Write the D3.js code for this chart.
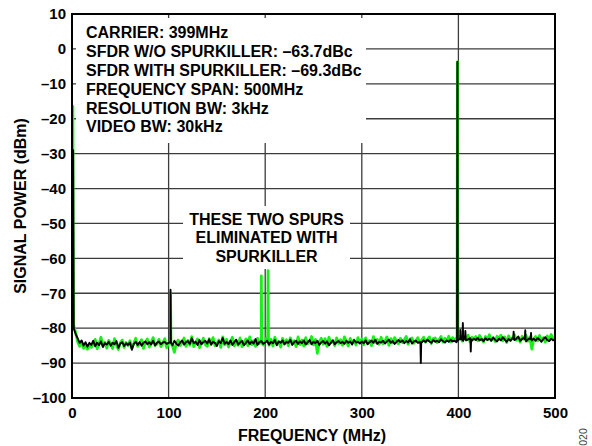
<!DOCTYPE html>
<html>
<head>
<meta charset="utf-8">
<script src="https://cdn.jsdelivr.net/npm/d3@7/dist/d3.min.js"></script>
<style>
  html, body { margin: 0; padding: 0; background: #fff; }
  svg { display: block; }
  text { font-family: "Liberation Sans", Arial, Helvetica, sans-serif; }
</style>
</head>
<body>
<svg id="chart" width="592" height="446"></svg>
<script>
// ---------------- DATA ----------------
const xTicks = [0, 100, 200, 300, 400, 500];
const yTicks = [10, 0, -10, -20, -30, -40, -50, -60, -70, -80, -90, -100];
const gridStepMHz = 2; // noise samples every 2 MHz, 0..500 MHz

const infoLines = [
  "CARRIER: 399MHz",
  "SFDR W/O SPURKILLER: \u201363.7dBc",
  "SFDR WITH SPURKILLER: \u201369.3dBc",
  "FREQUENCY SPAN: 500MHz",
  "RESOLUTION BW: 3kHz",
  "VIDEO BW: 30kHz"
];
const spurNote = ["THESE TWO SPURS", "ELIMINATED WITH", "SPURKILLER"];

// trace WITH SpurKiller (black), noise floor every 2 MHz
const blackNoise = [
  -80.0, -80.2, -81.8, -83.0, -84.2, -83.5, -85.0, -84.0, -85.3, -84.2,
  -84.8, -83.6, -85.2, -84.1, -84.9, -83.8, -85.4, -84.3, -84.7, -83.9,
  -85.0, -84.2, -84.6, -83.7, -85.6, -84.4, -84.0, -85.1, -84.3, -84.8,
  -84.1, -86.2, -84.5, -83.9, -84.8, -84.0, -85.0, -84.2, -83.8, -84.6,
  -84.0, -84.7, -83.6, -84.9, -84.2, -83.8, -84.6, -84.1, -83.9, -84.5,
  -84.2, -83.8, -84.9, -83.6, -84.4, -85.0, -84.1, -83.5, -84.7, -84.0,
  -83.7, -84.5, -82.9, -84.3, -83.9, -84.8, -83.4, -84.6, -84.0, -83.6,
  -84.4, -83.2, -84.7, -83.9, -84.2, -85.1, -83.7, -84.3, -82.8, -84.5,
  -83.9, -84.6, -83.5, -84.8, -84.0, -83.3, -84.7, -84.1, -83.6, -84.9,
  -84.2, -83.5, -84.6, -83.8, -84.4, -83.1, -84.8, -84.0, -83.7, -84.5,
  -84.1, -83.6, -84.7, -83.9, -84.3, -83.4, -84.9, -83.8, -84.2, -83.5,
  -84.6, -83.9, -84.2, -83.3, -84.8, -84.0, -83.6, -84.5, -83.8, -84.3,
  -83.5, -84.7, -84.0, -83.4, -84.6, -83.9, -84.3, -83.6, -84.8, -84.1,
  -83.7, -84.4, -83.8, -84.9, -84.2, -83.5, -84.6, -84.0, -83.7, -84.3,
  -83.9, -84.5, -83.6, -84.2, -83.8, -84.7, -83.4, -84.1, -83.9, -84.4,
  -83.8, -84.3, -83.5, -84.6, -84.0, -83.6, -84.2, -83.3, -84.5, -83.9,
  -84.1, -83.6, -84.4, -83.8, -83.3, -84.2, -83.7, -84.5, -83.9, -83.4,
  -84.0, -83.5, -84.3, -83.7, -84.1, -83.2, -84.4, -83.8, -83.6, -84.2,
  -83.9, -84.1, -83.5, -84.0, -83.3, -83.8, -84.2, -83.4, -83.9, -83.6,
  -84.0, -83.2, -83.7, -84.1, -83.5, -83.9, -83.3, -83.8, -83.6, -84.0,
  -83.4, -82.5, -83.0, -82.6, -83.5, -83.2, -82.9, -83.6, -83.0, -83.4,
  -82.8, -83.5, -83.1, -83.7, -82.9, -83.4, -83.0, -83.6, -82.7, -83.3,
  -83.8, -83.0, -83.5, -82.6, -83.3, -83.9, -83.1, -83.6, -82.8, -83.4,
  -83.0, -82.4, -83.6, -83.1, -82.7, -83.8, -83.2, -82.9, -83.5, -83.0,
  -83.6, -82.8, -83.3, -83.9, -83.1, -82.6, -83.4, -83.7, -83.0, -83.5,
  -83.2
];
// narrow features of the black trace: [MHz, dBm]
const blackSpurs = [
  [1.2, -29.0], [1.8, -79.2],
  [101.6, -84.0], [102.0, -69.0], [102.4, -84.2],
  [360.7, -84.0], [361.1, -90.0], [361.5, -84.2],
  [398.6, -83.8], [399.0, -3.7], [399.4, -83.2],
  [401.6, -83.0], [402.0, -80.5], [402.4, -83.2],
  [404.2, -83.4], [404.6, -78.5], [405.0, -83.6],
  [406.8, -83.0], [407.2, -80.8], [407.6, -83.1],
  [412.4, -83.0], [412.8, -86.7], [413.2, -83.2],
  [456.8, -83.0], [457.2, -81.0], [457.6, -83.2],
  [468.8, -83.2], [469.2, -80.6], [469.6, -83.0],
  [474.8, -83.1], [475.2, -81.4], [475.6, -83.3]
];

// trace WITHOUT SpurKiller (green), noise floor every 2 MHz
const greenNoise = [
  -79.0, -79.5, -81.5, -84.0, -85.2, -84.0, -85.8, -84.6, -86.0, -84.8,
  -85.5, -84.3, -83.2, -85.9, -84.5, -82.6, -85.1, -84.0, -85.7, -83.5,
  -84.4, -85.8, -83.0, -84.9, -86.1, -84.2, -83.4, -85.5, -84.1, -85.0,
  -83.6, -85.7, -84.3, -82.9, -85.2, -84.5, -83.3, -85.8, -84.0, -83.1,
  -85.4, -84.1, -82.7, -85.0, -84.6, -83.2, -85.3, -84.4, -83.0, -85.6,
  -84.3, -83.8, -85.1, -86.9, -84.2, -83.4, -85.0, -84.1, -82.8, -85.2,
  -83.5, -84.9, -82.4, -85.3, -84.0, -83.1, -85.6, -84.2, -82.9, -84.7,
  -85.2, -83.0, -84.6, -82.7, -85.0, -84.3, -83.4, -85.5, -82.5, -84.8,
  -83.2, -85.4, -84.1, -82.6, -85.1, -83.7, -84.9, -82.8, -85.3, -84.0,
  -83.1, -85.0, -82.5, -84.7, -83.6, -85.2, -82.9, -84.4, -83.0, -84.8,
  -83.5, -82.7, -84.9, -83.2, -85.1, -82.6, -84.3, -83.8, -85.4, -82.9,
  -84.6, -83.3, -85.0, -82.8, -84.2, -83.6, -85.3, -82.5, -84.7, -83.4,
  -85.1, -82.7, -84.5, -83.9, -82.4, -84.8, -83.2, -87.2, -84.0, -82.9,
  -84.6, -83.0, -85.2, -82.6, -84.1, -83.5, -85.0, -82.8, -84.4, -83.3,
  -84.9, -82.5, -83.8, -85.1, -82.9, -84.2, -83.4, -84.8, -82.7, -84.0,
  -83.1, -84.7, -82.8, -84.3, -83.5, -85.0, -82.4, -84.1, -83.2, -84.6,
  -82.6, -84.4, -83.7, -82.5, -84.9, -83.0, -84.2, -82.7, -83.8, -84.5,
  -82.9, -84.1, -83.3, -82.4, -84.6, -83.1, -82.8, -84.3, -83.6, -82.7,
  -84.2, -83.4, -82.6, -84.0, -83.2, -82.5, -84.4, -83.0, -82.8, -84.1,
  -83.3, -82.4, -84.0, -82.9, -83.6, -82.3, -83.9, -82.7, -83.4, -82.8,
  -83.0, -82.2, -83.7, -82.5, -83.3, -82.0, -83.9, -82.6, -83.1, -82.4,
  -83.6, -82.1, -83.0, -84.0, -82.4, -83.3, -81.9, -83.5, -82.7, -83.8,
  -82.3, -83.1, -82.0, -83.6, -82.5, -84.1, -82.2, -83.4, -82.8, -81.9,
  -83.5, -82.6, -84.0, -82.3, -83.2, -82.0, -83.7, -82.5, -86.0, -83.0,
  -82.4, -83.6, -82.1, -83.3, -82.7, -84.0, -82.2, -83.5, -81.8, -83.1,
  -82.6
];
// narrow features of the green trace: [MHz, dBm]
const greenSpurs = [
  [0.9, -16.5], [1.5, -79.0],
  [101.6, -84.0], [102.0, -70.0], [102.4, -84.0],
  [195.6, -84.2], [196.0, -65.0], [196.4, -84.0],
  [202.6, -84.0], [203.0, -63.5], [203.4, -84.1],
  [398.6, -83.0], [399.0, -3.7], [399.4, -83.0]
];

// ---------------- CHART ----------------
const svg = d3.select("#chart");
const x = d3.scaleLinear().domain([0, 500]).range([72, 555]);
const y = d3.scaleLinear().domain([-100, 10]).range([398, 14]);
const fmt = d => (d < 0 ? "\u2013" + Math.abs(d) : String(d));

function series(noise, spurs) {
  const pts = noise.map((v, i) => [i * gridStepMHz, v]).concat(spurs);
  pts.sort((a, b) => a[0] - b[0]);
  return pts;
}

// grid
const grid = svg.append("g").attr("stroke", "#3c3c3c").attr("stroke-width", 1.3);
grid.selectAll("line.h").data(yTicks.filter(d => d > -100 && d < 10)).join("line")
  .attr("x1", x(0)).attr("x2", x(500)).attr("y1", d => y(d)).attr("y2", d => y(d));
grid.selectAll("line.v").data(xTicks.filter(d => d > 0 && d < 500)).join("line")
  .attr("y1", y(10)).attr("y2", y(-100)).attr("x1", d => x(d)).attr("x2", d => x(d));

// white boxes behind the annotations
svg.append("rect").attr("x", x(0) + 4).attr("y", y(10) + 4)
  .attr("width", 366 - (x(0) + 4)).attr("height", 143 - (y(10) + 4)).attr("fill", "#fff");
svg.append("rect").attr("x", 183).attr("y", 206).attr("width", 167).attr("height", 63).attr("fill", "#fff");

// traces
svg.append("clipPath").attr("id", "plotclip").append("rect")
  .attr("x", x(0)).attr("y", y(10)).attr("width", x(500) - x(0)).attr("height", y(-100) - y(10));
const line = d3.line().x(d => x(d[0])).y(d => y(d[1]));
const traces = svg.append("g").attr("clip-path", "url(#plotclip)");
traces.append("path").datum(series(greenNoise, greenSpurs)).attr("d", line)
  .attr("fill", "none").attr("stroke", "#19f019").attr("stroke-width", 2.8).attr("stroke-linejoin", "round");
traces.append("path").datum(series(blackNoise, blackSpurs)).attr("d", line)
  .attr("fill", "none").attr("stroke", "#000").attr("stroke-width", 1.9).attr("stroke-linejoin", "round");

// frame
svg.append("rect").attr("x", x(0)).attr("y", y(10)).attr("width", x(500) - x(0)).attr("height", y(-100) - y(10))
  .attr("fill", "none").attr("stroke", "#000").attr("stroke-width", 2);

// axes (labels only)
const yAxis = svg.append("g").attr("transform", `translate(${x(0)},0)`)
  .call(d3.axisLeft(y).tickValues(yTicks).tickSize(0).tickPadding(6).tickFormat(fmt));
const xAxis = svg.append("g").attr("transform", `translate(0,${y(-100)})`)
  .call(d3.axisBottom(x).tickValues(xTicks).tickSize(0).tickPadding(9).tickFormat(fmt));
[yAxis, xAxis].forEach(a => {
  a.select(".domain").remove();
  a.selectAll("text").attr("font-family", "'Liberation Sans', Arial, sans-serif")
    .attr("font-size", 15).attr("font-weight", "bold").attr("fill", "#000");
});

// axis titles
svg.append("text").attr("x", 312).attr("y", 440.5).attr("text-anchor", "middle")
  .attr("font-size", 16).attr("font-weight", "bold").text("FREQUENCY (MHz)");
svg.append("text").attr("transform", "translate(26,206) rotate(-90)").attr("text-anchor", "middle")
  .attr("font-size", 16).attr("font-weight", "bold").text("SIGNAL POWER (dBm)");

// annotations
svg.append("g").selectAll("text").data(infoLines).join("text")
  .attr("x", 86).attr("y", (d, i) => 38.3 + i * 18.8)
  .attr("font-size", 16).attr("font-weight", "bold").text(d => d);
svg.append("g").selectAll("text").data(spurNote).join("text")
  .attr("x", 266.5).attr("y", (d, i) => 224.5 + i * 18.8).attr("text-anchor", "middle")
  .attr("font-size", 16).attr("font-weight", "bold").text(d => d);

// figure number
svg.append("text").attr("transform", "translate(587,437) rotate(-90)").attr("text-anchor", "middle")
  .attr("font-size", 10.5).attr("fill", "#444").text("020");
</script>
</body>
</html>
